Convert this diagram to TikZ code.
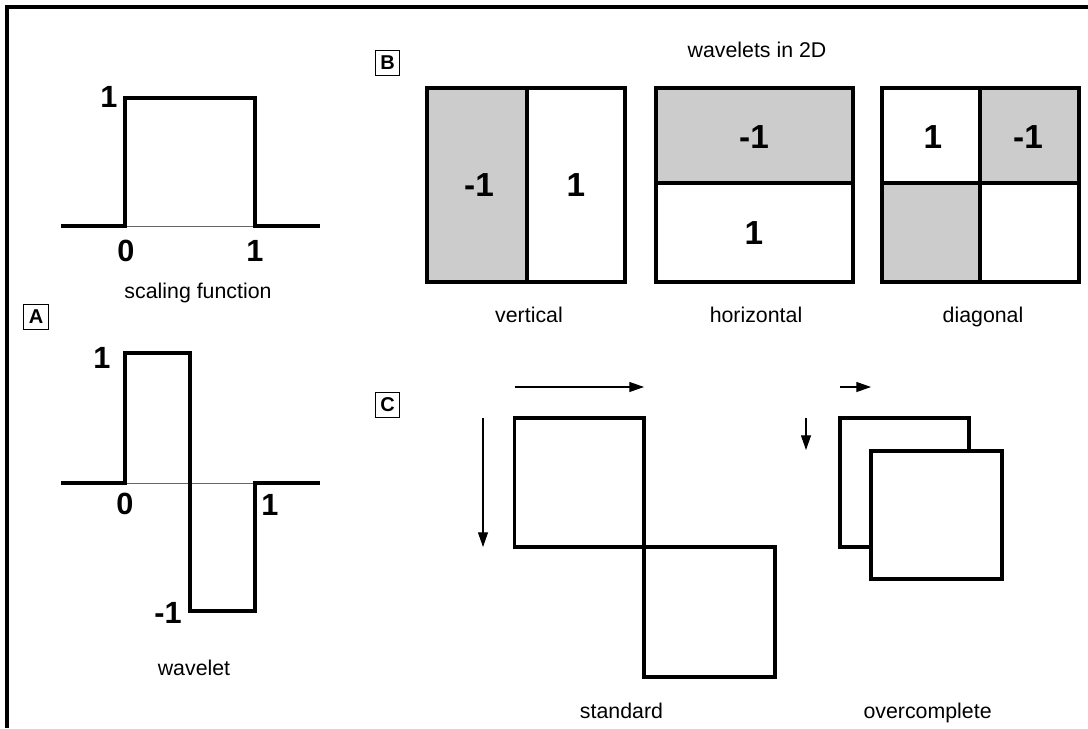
\documentclass[tikz,border=0pt]{standalone}
\usepackage{fontspec}
\setmainfont{Liberation Sans}
\usetikzlibrary{arrows.meta}
\definecolor{cellgray}{HTML}{CCCCCC}
\tikzset{
  px/.style={x=0.75pt,y=-0.75pt},
  thk/.style={line width=2.4pt,line join=miter},
  axisline/.style={line width=0.7pt,draw=black!60},
  cell/.style={thk,draw=black},
  arr/.style={line width=0.8pt,-{Triangle[length=11pt,width=7.5pt]}},
  lbl/.style={inner sep=0pt,anchor=base,font=\fontsize{16}{19}\selectfont},
  numA/.style={inner sep=0pt,font=\fontsize{23}{27}\selectfont\bfseries},
  numB/.style={inner sep=0pt,font=\fontsize{25}{29}\selectfont\bfseries},
  tag/.style={draw,line width=0.6pt,inner sep=0pt,minimum width=18.5pt,minimum height=19pt,font=\fontsize{15}{18}\selectfont\bfseries}
}
\begin{document}
\begin{tikzpicture}[px]
\useasboundingbox (0,0) rectangle (1088,728);
% frame
\draw[line width=2.4pt] (7,728) -- (7,7) -- (1088,7);
% tags
\node[tag] (tagA) at (36,317) {A};
\node[tag] (tagB) at (387.5,63) {B};
\node[tag] (tagC) at (387.5,405) {C};
% ---------- Panel A: scaling function
\draw[axisline] (125,226) -- (255,226);
\draw[thk] (61,226) -- (125,226) -- (125,98) -- (255,98) -- (255,226) -- (320,226);
\node[numA] (s1) at (109,97) {1};
\node[numA] (s0) at (126,251) {0};
\node[numA] (s1b) at (255,251) {1};
\node[lbl] (sf) at (198,298) {scaling function};
% ---------- Panel A: wavelet
\draw[axisline] (125,483) -- (255,483);
\draw[thk] (61,483) -- (125,483) -- (125,353) -- (190,353) -- (190,611) -- (255,611) -- (255,483) -- (320,483);
\node[numA] (w1) at (102,358) {1};
\node[numA] (w0) at (125,504) {0};
\node[numA] (w1b) at (270,505) {1};
\node[numA] (wm1) at (168,613) {-1};
\node[lbl] (wl) at (194,675) {wavelet};
% ---------- Panel B
\node[lbl] (title) at (757,57) {wavelets in 2D};
% vertical
\fill[cellgray] (427,88) rectangle (527,282);
\draw[cell] (427,88) rectangle (625,282);
\draw[cell] (527,88) -- (527,282);
\node[numB] (v1) at (479,185) {-1};
\node[numB] (v2) at (576,185) {1};
\node[lbl] (vl) at (529,322) {vertical};
% horizontal
\fill[cellgray] (656,88) rectangle (853,183);
\draw[cell] (656,88) rectangle (853,282);
\draw[cell] (656,183) -- (853,183);
\node[numB] (h1) at (754,137) {-1};
\node[numB] (h2) at (754,233) {1};
\node[lbl] (hl) at (756,322) {horizontal};
% diagonal
\fill[cellgray] (980,88) rectangle (1079,183);
\fill[cellgray] (882,183) rectangle (980,282);
\draw[cell] (882,88) rectangle (1079,282);
\draw[cell] (980,88) -- (980,282);
\draw[cell] (882,183) -- (1079,183);
\node[numB] (d1) at (933,137) {1};
\node[numB] (d2) at (1028,137) {-1};
\node[lbl] (dl) at (983,322) {diagonal};
% ---------- Panel C: standard
\coordinate (sa1) at (514.5,387);
\coordinate (sa2) at (644,387);
\coordinate (sv1) at (483,418);
\coordinate (sv2) at (483,547);
\draw[arr] (sa1) -- (sa2);
\draw[arr] (sv1) -- (sv2);
\draw[cell] (514.5,418) rectangle (644,547);
\draw[cell] (644,547) rectangle (775,677);
\node[lbl] (stl) at (621.5,718) {standard};
% overcomplete
\coordinate (oa1) at (840,387);
\coordinate (oa2) at (871,387);
\coordinate (ov1) at (806,418);
\coordinate (ov2) at (806,450);
\draw[arr] (oa1) -- (oa2);
\draw[arr] (ov1) -- (ov2);
\draw[cell] (840,418) rectangle (969,547);
\draw[cell,fill=white] (871,451) rectangle (1002,579);
\node[lbl] (ocl) at (927.6,718) {overcomplete};
\end{tikzpicture}
\end{document}
